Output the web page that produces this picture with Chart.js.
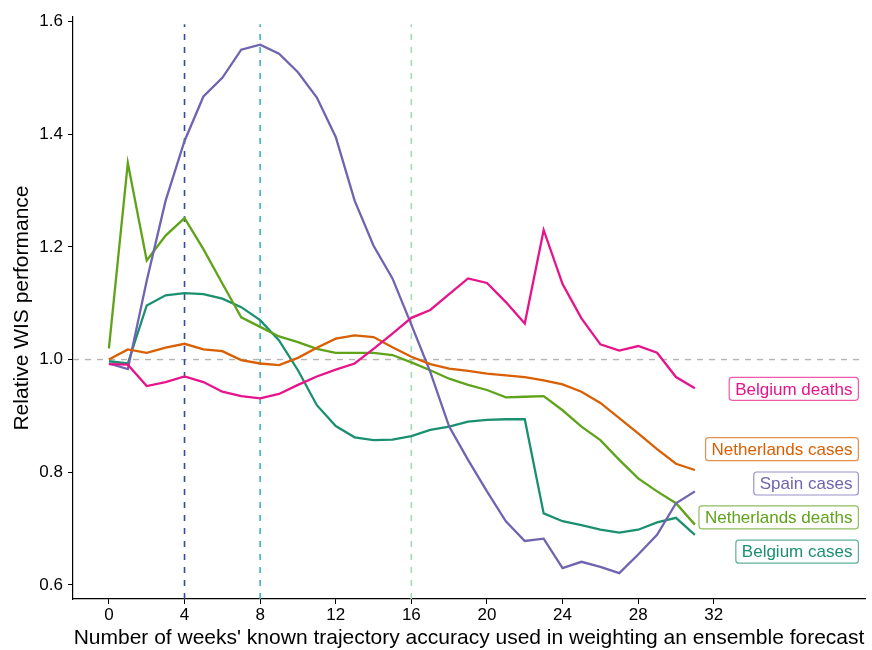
<!DOCTYPE html>
<html>
<head>
<meta charset="utf-8">
<script src="https://cdn.jsdelivr.net/npm/chart.js@4.4.1/dist/chart.umd.min.js"></script>
<style>
  html, body { margin: 0; padding: 0; background: #fff; }
  #wrap { width: 872px; height: 650px; }
</style>
</head>
<body>
<div id="wrap"><canvas id="wisChart" width="872" height="650"></canvas></div>
<script>
// weeks of known trajectory accuracy (x)
const weeks = [0,1,2,3,4,5,6,7,8,9,10,11,12,13,14,15,16,17,18,19,20,21,22,23,24,25,26,27,28,29,30,31];

const seriesNames = ['Belgium deaths', 'Netherlands cases', 'Spain cases', 'Netherlands deaths', 'Belgium cases'];
const seriesColors = ['#e7138a', '#d95f02', '#6f64b0', '#5fa31a', '#1b9070'];

const belgiumDeaths = [0.992,0.991,0.953,0.960,0.970,0.960,0.943,0.935,0.931,0.939,0.955,0.970,0.982,0.993,1.019,1.046,
  1.074,1.088,1.116,1.144,1.136,1.102,1.064,1.230,1.134,1.073,1.027,1.016,1.024,1.012,0.969,0.949];
const netherlandsCases = [1.000,1.018,1.012,1.021,1.028,1.018,1.015,0.999,0.993,0.990,1.003,1.021,1.037,1.043,1.040,1.022,
  1.005,0.992,0.984,0.980,0.975,0.972,0.969,0.963,0.956,0.943,0.923,0.896,0.869,0.841,0.815,0.804];
const spainCases = [0.993,0.983,1.140,1.282,1.388,1.467,1.500,1.550,1.559,1.543,1.510,1.465,1.395,1.282,1.202,1.144,
  1.062,0.978,0.881,0.822,0.766,0.713,0.678,0.682,0.630,0.641,0.632,0.621,0.654,0.689,0.745,0.766];
const netherlandsDeaths = [1.020,1.349,1.176,1.220,1.251,1.196,1.135,1.075,1.058,1.041,1.031,1.019,1.012,1.012,1.012,1.008,
  0.995,0.981,0.966,0.955,0.946,0.933,0.934,0.935,0.910,0.881,0.857,0.822,0.789,0.766,0.745,0.707];
const belgiumCases = [0.997,0.993,1.096,1.114,1.118,1.116,1.108,1.093,1.070,1.034,0.981,0.919,0.882,0.862,0.857,0.858,
  0.864,0.875,0.881,0.890,0.893,0.894,0.894,0.727,0.713,0.706,0.698,0.693,0.698,0.711,0.719,0.689];

const seriesValues = [belgiumDeaths, netherlandsCases, spainCases, netherlandsDeaths, belgiumCases];

// repelled label positions (y, data units) at the right edge
const labelY = [0.948, 0.841, 0.780, 0.720, 0.659];
const labelX = 39.65;

// reference lines
const vlineWeeks = [4, 8, 16];
const vlineColors = ['#2c4f9c', '#41b0c0', '#a1dab4'];
const refY = 1.0;

const xTicks = [0, 4, 8, 12, 16, 20, 24, 28, 32];
const yTicks = [0.6, 0.8, 1.0, 1.2, 1.4, 1.6];

const FONT = "'Liberation Sans', Arial, sans-serif";
Chart.defaults.font.family = FONT;
Chart.defaults.color = '#000';

const datasets = [];

// dashed vertical lines spanning the panel
vlineWeeks.forEach((w, i) => {
  datasets.push({
    data: [{ x: w, y: 0.575 }, { x: w, y: 1.595 }],
    borderColor: vlineColors[i],
    borderWidth: 1.6,
    borderDash: [6, 7],
    pointRadius: 0,
    order: 10
  });
});

// horizontal reference at 1
datasets.push({
  data: [{ x: -1.9, y: refY }, { x: 40, y: refY }],
  borderColor: '#b3b3b3',
  borderWidth: 1.4,
  borderDash: [6, 6],
  pointRadius: 0,
  order: 11
});

seriesValues.forEach((vals, i) => {
  datasets.push({
    label: seriesNames[i],
    data: weeks.map((w, j) => ({ x: w, y: vals[j] })),
    borderColor: seriesColors[i],
    borderWidth: 2.3,
    pointRadius: 0,
    tension: 0,
    order: i
  });
});

function hexAlpha(hex, a) {
  const n = parseInt(hex.slice(1), 16);
  return `rgba(${(n >> 16) & 255}, ${(n >> 8) & 255}, ${n & 255}, ${a})`;
}

function roundRect(ctx, x, y, w, h, r) {
  ctx.beginPath();
  ctx.moveTo(x + r, y);
  ctx.lineTo(x + w - r, y);
  ctx.arcTo(x + w, y, x + w, y + r, r);
  ctx.lineTo(x + w, y + h - r);
  ctx.arcTo(x + w, y + h, x + w - r, y + h, r);
  ctx.lineTo(x + r, y + h);
  ctx.arcTo(x, y + h, x, y + h - r, r);
  ctx.lineTo(x, y + r);
  ctx.arcTo(x, y, x + r, y, r);
  ctx.closePath();
}

// boxed labels at the right, like ggrepel's geom_label
const boxLabels = {
  id: 'boxLabels',
  afterDatasetsDraw(chart) {
    const { ctx, scales: { x, y } } = chart;
    ctx.save();
    ctx.font = `17px ${FONT}`;
    ctx.textBaseline = 'middle';
    seriesNames.forEach((name, i) => {
      const right = x.getPixelForValue(labelX);
      const cy = y.getPixelForValue(labelY[i]);
      const tw = ctx.measureText(name).width;
      const padX = 6, h = 23;
      const left = right - tw - padX * 2;
      roundRect(ctx, left, cy - h / 2, right - left, h, 3);
      ctx.fillStyle = '#fff';
      ctx.fill();
      ctx.strokeStyle = hexAlpha(seriesColors[i], 0.7);
      ctx.lineWidth = 1.2;
      ctx.stroke();
      ctx.fillStyle = seriesColors[i];
      ctx.textAlign = 'left';
      ctx.fillText(name, left + padX, cy + 1);
    });
    ctx.restore();
  }
};

new Chart(document.getElementById('wisChart').getContext('2d'), {
  type: 'line',
  data: { datasets },
  plugins: [boxLabels],
  options: {
    responsive: false,
    animation: false,
    devicePixelRatio: 1,
    layout: { padding: { top: 17, right: 7, left: 0, bottom: 0 } },
    plugins: { legend: { display: false }, tooltip: { enabled: false } },
    scales: {
      x: {
        type: 'linear',
        min: -1.9,
        max: 40,
        afterBuildTicks: s => { s.ticks = xTicks.map(v => ({ value: v })); },
        afterFit: s => { s.height = 51; },
        ticks: { font: { size: 17 }, color: '#000', padding: 1, maxRotation: 0 },
        grid: { drawOnChartArea: false, drawTicks: true, tickLength: 5, tickColor: '#000', tickWidth: 1 },
        border: { display: true, color: '#000', width: 1.2 },
        title: {
          display: true,
          text: "Number of weeks' known trajectory accuracy used in weighting an ensemble forecast",
          font: { size: 21 },
          color: '#000',
          padding: { top: 0, bottom: -1 }
        }
      },
      y: {
        type: 'linear',
        min: 0.575,
        max: 1.608,
        afterBuildTicks: s => { s.ticks = yTicks.map(v => ({ value: v })); },
        afterFit: s => { s.width = 73; },
        ticks: { font: { size: 17 }, color: '#000', padding: 5, callback: v => v.toFixed(1) },
        grid: { drawOnChartArea: false, drawTicks: true, tickLength: 5, tickColor: '#000', tickWidth: 1 },
        border: { display: true, color: '#000', width: 1.2 },
        title: {
          display: true,
          text: 'Relative WIS performance',
          font: { size: 21 },
          color: '#000',
          padding: { top: 10, bottom: 0 }
        }
      }
    }
  }
});
</script>
</body>
</html>
